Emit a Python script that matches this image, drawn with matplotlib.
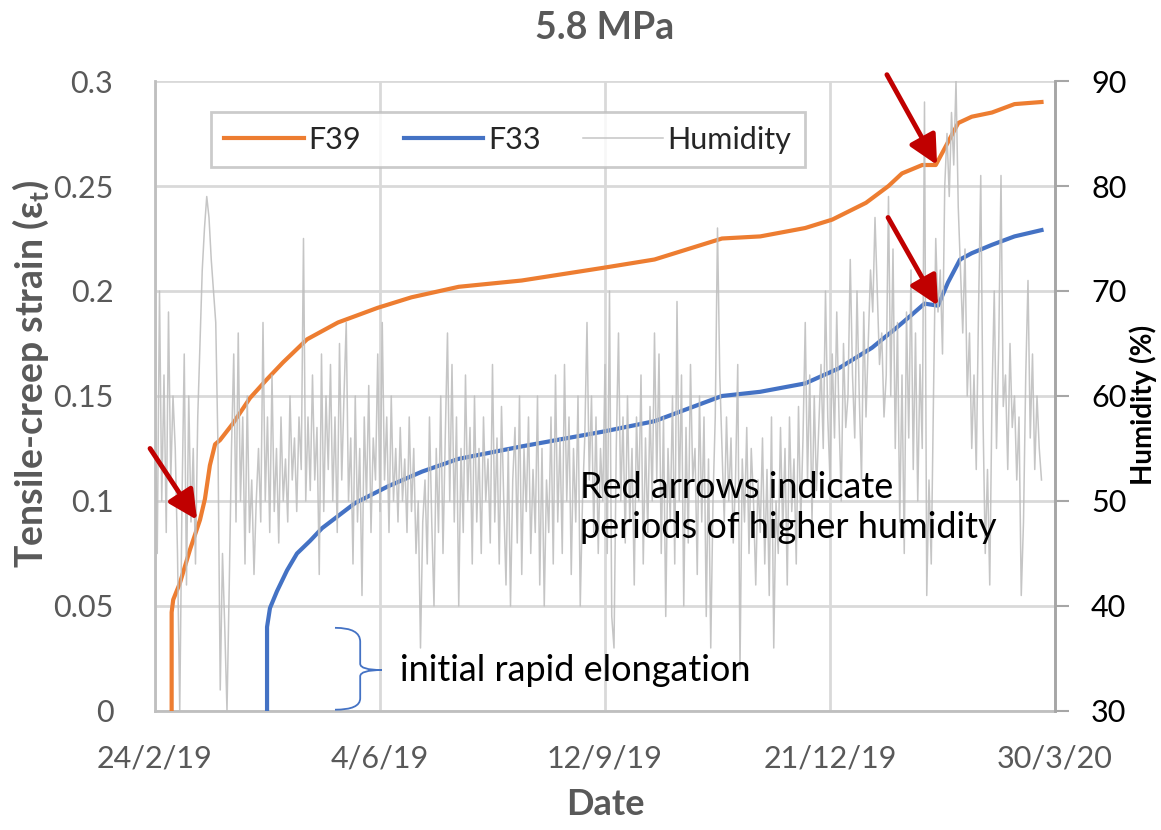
import numpy as np
import matplotlib
matplotlib.use('Agg')
import matplotlib.pyplot as plt
from matplotlib.path import Path
from matplotlib.patches import PathPatch

plt.rcParams['font.family'] = ['Lato', 'DejaVu Sans']

# x values are days after 24/2/19
f39_day = [7.4, 7.4, 8.1, 11.1, 15.6, 20, 22.2, 24.4, 26.7, 28.9, 34.7, 42.2, 49.8, 56.9,
           67.6, 81.3, 99, 114, 135, 163, 199, 222, 252, 269, 289, 301, 316, 326, 332,
           341, 347, 351, 357, 363, 372, 382, 394]
f39_strain = [0, 0.047, 0.053, 0.061, 0.077, 0.091, 0.101, 0.117, 0.127, 0.129, 0.137, 0.149,
              0.158, 0.166, 0.177, 0.185, 0.192, 0.197, 0.202, 0.205, 0.211, 0.215, 0.225,
              0.226, 0.230, 0.234, 0.242, 0.250, 0.256, 0.260, 0.260, 0.268, 0.280, 0.283,
              0.285, 0.289, 0.290]

f33_day = [49.8, 49.8, 51.1, 54.2, 58.7, 63.1, 68.9, 74.2, 88.9, 103.6, 118.7, 134.7, 163,
           199, 222, 252, 269, 289, 303.6, 318.7, 329, 335.6, 342, 348, 352.4, 357.8, 363,
           372, 382, 394]
f33_strain = [0, 0.040, 0.049, 0.057, 0.067, 0.075, 0.081, 0.087, 0.099, 0.107, 0.114, 0.120,
              0.126, 0.133, 0.138, 0.150, 0.152, 0.156, 0.163, 0.173, 0.182, 0.188, 0.194,
              0.193, 0.204, 0.215, 0.218, 0.222, 0.226, 0.229]

# daily humidity readings (%) from 24/2/19
humidity = [
    58, 45, 70, 50, 62, 47, 68, 52, 60, 55,
    45, 30, 50, 64, 42, 60, 48, 55, 44, 58,
    65, 72, 76, 79, 77, 73, 70, 67, 55, 32,
    45, 38, 30, 42, 55, 64, 48, 66, 50, 58,
    44, 60, 47, 52, 43, 50, 55, 48, 67, 50,
    58, 47, 62, 49, 55, 46, 58, 50, 54, 48,
    60, 52, 56, 49, 58, 53, 75, 50, 58, 51,
    62, 52, 57, 43, 64, 49, 60, 53, 63, 50,
    58, 47, 65, 52, 60, 67, 50, 56, 44, 60,
    48, 55, 41, 58, 50, 61, 47, 56, 52, 64,
    49, 67, 52, 58, 47, 60, 50, 55, 48, 57,
    50, 54, 47, 58, 49, 55, 45, 50, 36, 48,
    52, 44, 58, 48, 40, 55, 47, 60, 45, 56,
    66, 50, 63, 48, 58, 40, 55, 47, 62, 50,
    57, 44, 60, 48, 55, 45, 58, 50, 54, 46,
    63, 48, 56, 44, 59, 50, 42, 55, 40, 52,
    57, 46, 60, 43, 55, 49, 58, 45, 53, 47,
    60, 42, 55, 40, 52, 47, 58, 44, 62, 48,
    56, 45, 63, 50, 58, 43, 55, 48, 60, 40,
    50, 56, 67, 52, 60, 47, 58, 45, 55, 50,
    63, 45, 70, 39, 36, 55, 66, 50, 58, 46,
    60, 48, 55, 42, 58, 50, 62, 44, 56, 47,
    59, 50, 66, 52, 64, 45, 58, 39, 55, 48,
    60, 44, 69, 50, 62, 40, 57, 46, 63, 52,
    55, 43, 60, 48, 58, 39, 54, 36, 50, 58,
    76, 62, 55, 48, 58, 50, 56, 46, 52, 63,
    34, 54, 48, 57, 45, 55, 50, 42, 52, 47,
    56, 44, 53, 41, 58, 36, 50, 45, 57, 47,
    55, 42, 58, 49, 54, 44, 59, 48, 56, 67,
    52, 62, 48, 60, 51, 57, 63, 55, 70, 58,
    52, 64, 56, 68, 58, 50, 65, 57, 60, 73,
    62, 56, 70, 60, 52, 68, 58, 65, 72, 68,
    77, 70, 63, 66, 58, 62, 79, 60, 74, 55,
    67, 48, 62, 45, 68, 56, 72, 53, 66, 50,
    63, 55, 88, 41, 52, 44, 60, 75, 68, 72,
    64, 80, 85, 79, 87, 82, 90, 78, 72, 66,
    74, 60, 66, 55, 62, 53, 68, 81, 58, 45,
    53, 42, 60, 70, 55, 65, 81, 59, 62, 53,
    65, 57, 60, 52, 58, 41, 48, 62, 71, 56,
    64, 53, 60, 55, 52,
]
hum_day = np.arange(len(humidity))

date_ticks = [0, 100, 200, 300, 400]
date_labels = ['24/2/19', '4/6/19', '12/9/19', '21/12/19', '30/3/20']
strain_ticks = [0, 0.05, 0.1, 0.15, 0.2, 0.25, 0.3]
strain_labels = ['0', '0.05', '0.1', '0.15', '0.2', '0.25', '0.3']
hum_ticks = [30, 40, 50, 60, 70, 80, 90]

# arrows: (tail day, tail strain, tip day, tip strain)
arrows = [(-2.2, 0.125, 18.7, 0.091),
          (325.3, 0.303, 347.6, 0.260),
          (325.8, 0.235, 348.0, 0.193)]

gray_txt = '#595959'
grid_c = '#D9D9D9'

fig = plt.figure(figsize=(11.61, 8.30), dpi=100)
ax = fig.add_axes([0.1335, 0.1434, 0.7752, 0.759])
ax2 = ax.twinx()

l39, = ax.plot(f39_day, f39_strain, color='#ED7D31', lw=3, label='F39', zorder=3)
l33, = ax.plot(f33_day, f33_strain, color='#4472C4', lw=3, label='F33', zorder=3)
lh, = ax2.plot(hum_day, humidity, color='#BFBFBF', lw=1.1, label='Humidity', alpha=0.9)

ax.set_xlim(0, 400)
ax.set_ylim(0, 0.3)
ax2.set_ylim(30, 90)

ax.set_xticks(date_ticks)
ax.set_xticklabels(date_labels)
ax.set_yticks(strain_ticks)
ax.set_yticklabels(strain_labels)
ax2.set_yticks(hum_ticks)

ax.grid(True, color=grid_c, lw=2)
ax.set_axisbelow(True)
ax.tick_params(axis='x', length=0, pad=24, labelsize=22, colors=gray_txt)
ax.tick_params(axis='y', length=0, pad=30, labelsize=22, colors=gray_txt)
ax2.tick_params(axis='y', length=10, width=1.5, color='#A6A6A6', pad=16, labelsize=22,
                labelcolor='black')

for name, sp in ax.spines.items():
    sp.set_color('#BFBFBF')
    sp.set_linewidth(2)
for name, sp in ax2.spines.items():
    sp.set_visible(False)
ax2.spines['right'].set_visible(True)
ax2.spines['right'].set_color('#A6A6A6')
ax2.spines['right'].set_linewidth(2)
ax.spines['top'].set_visible(False)

ax.set_title('5.8 MPa', fontsize=27, fontweight='bold', color=gray_txt, pad=30)
ax.set_xlabel('Date', fontsize=26, fontweight='bold', color=gray_txt)
ax.xaxis.set_label_coords(0.5, -0.122)
ax.set_ylabel(r'Tensile-creep strain (ε$_\mathregular{t}$)', fontsize=27, fontweight='bold',
              color=gray_txt)
ax.yaxis.set_label_coords(-0.115, 0.535)
ax2.set_ylabel('Humidity (%)', fontsize=20, fontweight='bold', color='black')
ax2.yaxis.set_label_coords(1.083, 0.486)

leg = ax2.legend(handles=[l39, l33, lh], loc='center', bbox_to_anchor=(0.392, 0.907),
                 ncol=3, fontsize=22, frameon=True, fancybox=False, handlelength=2.6,
                 columnspacing=1.4, handletextpad=0.15, borderpad=0.45)
leg.get_frame().set_edgecolor('#BFBFBF')
leg.get_frame().set_linewidth(2)
for t in leg.get_texts():
    t.set_color('#262626')

for x0, y0, x1, y1 in arrows:
    ax2.annotate('', xy=(x1, y1), xytext=(x0, y0), xycoords=ax.transData,
                 textcoords=ax.transData, annotation_clip=False,
                 arrowprops=dict(arrowstyle='-|>,head_length=0.8,head_width=0.4',
                                 color='#C00000', lw=3.5, shrinkA=0, shrinkB=0,
                                 mutation_scale=22))

ax2.text(188.9, 0.097, 'Red arrows indicate\nperiods of higher humidity', transform=ax.transData,
         fontsize=26, color='black', va='center', ha='left', linespacing=1.25)
ax2.text(108.9, 0.0195, 'initial rapid elongation', transform=ax.transData,
         fontsize=26, color='black', va='center', ha='left')

# curly brace next to the elongation note
verts = [(0.200, 0.132), (0.228, 0.132), (0.228, 0.110), (0.228, 0.075),
         (0.228, 0.065), (0.252, 0.065), (0.228, 0.065), (0.228, 0.055),
         (0.228, 0.020), (0.228, 0.002), (0.200, 0.002)]
codes = [Path.MOVETO, Path.CURVE3, Path.CURVE3, Path.LINETO,
         Path.CURVE3, Path.CURVE3, Path.CURVE3, Path.CURVE3,
         Path.LINETO, Path.CURVE3, Path.CURVE3]
brace = PathPatch(Path(verts, codes), transform=ax.transAxes, fill=False,
                  edgecolor='#4472C4', lw=1.3, clip_on=False)
ax2.add_patch(brace)

fig.savefig('out.png', dpi=100)
